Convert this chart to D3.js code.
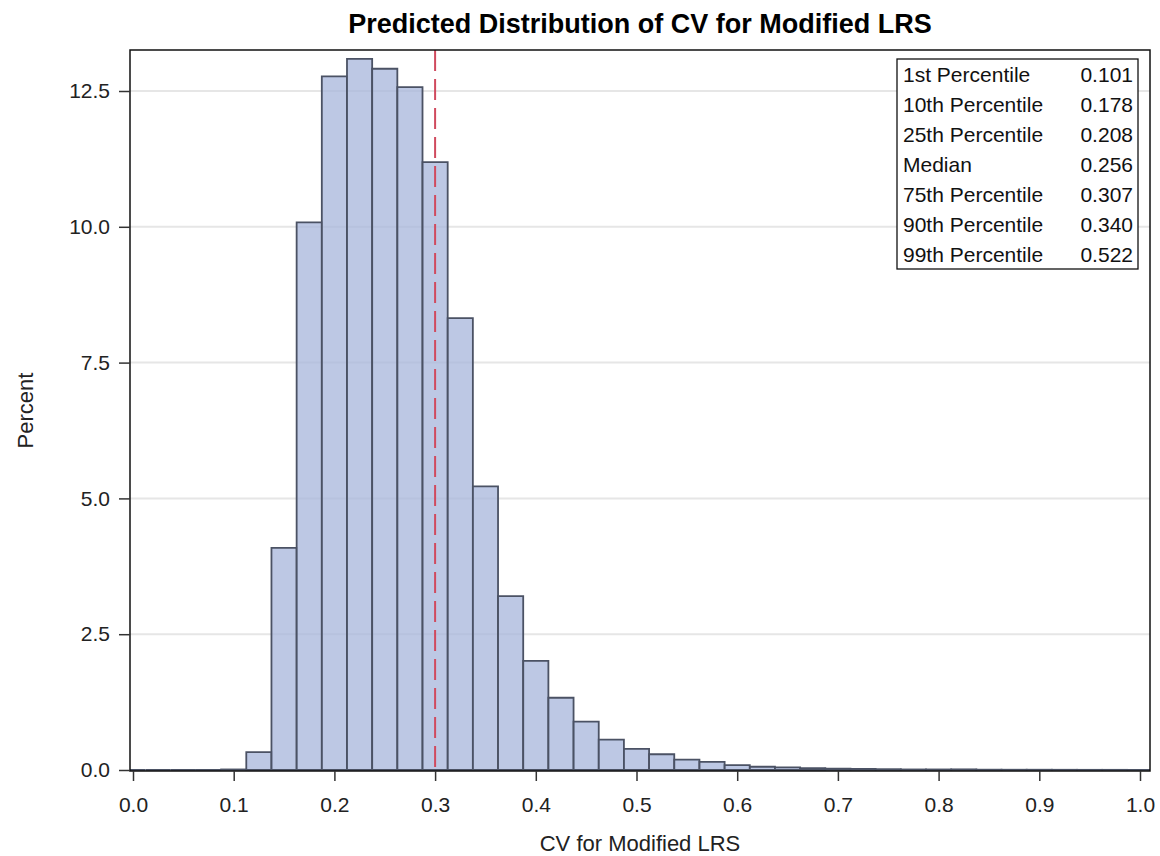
<!DOCTYPE html>
<html>
<head>
<meta charset="utf-8">
<script src="https://cdn.jsdelivr.net/npm/d3@7"></script>
<style>
  html, body { margin: 0; padding: 0; background: #fff; }
  svg { display: block; font-family: "Liberation Sans", Arial, sans-serif; }
</style>
</head>
<body>
<svg id="chart" width="1160" height="856"></svg>
<script>
// ---- data ----
const binCenters = [0.000, 0.025, 0.050, 0.075, 0.100, 0.125, 0.150, 0.175, 0.200, 0.225,
                    0.250, 0.275, 0.300, 0.325, 0.350, 0.375, 0.400, 0.425, 0.450, 0.475,
                    0.500, 0.525, 0.550, 0.575, 0.600, 0.625, 0.650, 0.675, 0.700, 0.725,
                    0.750, 0.775, 0.800, 0.825, 0.850, 0.875, 0.900, 0.925, 0.950, 0.975, 1.000];
const percentValues = [0, 0, 0, 0, 0.01, 0.33, 4.09, 10.08, 12.77, 13.09,
                       12.91, 12.57, 11.19, 8.32, 5.22, 3.20, 2.01, 1.33, 0.89, 0.56,
                       0.39, 0.29, 0.19, 0.15, 0.09, 0.06, 0.05, 0.035, 0.025, 0.02,
                       0.015, 0.01, 0.01, 0.012, 0.006, 0.005, 0.005, 0.004, 0.003, 0.003, 0.002];
const binWidth = 0.025;
const xTicks = [0.0, 0.1, 0.2, 0.3, 0.4, 0.5, 0.6, 0.7, 0.8, 0.9, 1.0];
const yTicks = [0.0, 2.5, 5.0, 7.5, 10.0, 12.5];
const refLineValue = 0.3;
const statLabels = ["1st Percentile", "10th Percentile", "25th Percentile", "Median",
                    "75th Percentile", "90th Percentile", "99th Percentile"];
const statValues = ["0.101", "0.178", "0.208", "0.256", "0.307", "0.340", "0.522"];
const titleText = "Predicted Distribution of CV for Modified LRS";
const xLabel = "CV for Modified LRS";
const yLabel = "Percent";

// ---- layout ----
const svg = d3.select("#chart");
const frame = { left: 130, right: 1150, top: 50, bottom: 771 };
const x = d3.scaleLinear().domain([0, 1]).range([133, 1140]);
const y = d3.scaleLinear().domain([0, 12.5]).range([770, 91]);

svg.append("defs").append("clipPath").attr("id", "plotclip")
  .append("rect")
  .attr("x", frame.left).attr("y", frame.top)
  .attr("width", frame.right - frame.left).attr("height", frame.bottom - frame.top);

// grid
svg.append("g").selectAll("line").data(yTicks.filter(d => d > 0)).join("line")
  .attr("x1", frame.left).attr("x2", frame.right)
  .attr("y1", d => y(d)).attr("y2", d => y(d))
  .attr("stroke", "#e6e6e6").attr("stroke-width", 2);

// bars (as paths so zero-height bins still show their outline)
const bins = binCenters.map((c, i) => ({ c, v: percentValues[i] }));
svg.append("g").attr("clip-path", "url(#plotclip)")
  .selectAll("path").data(bins).join("path")
  .attr("d", d => {
    const x0 = x(d.c - binWidth / 2), x1 = x(d.c + binWidth / 2);
    const y0 = y(0), y1 = y(d.v);
    return `M${x0},${y0}V${y1}H${x1}V${y0}Z`;
  })
  .attr("fill", "rgb(167,182,219)")
  .attr("fill-opacity", 0.75)
  .attr("stroke", "#4b5264")
  .attr("stroke-width", 1.8);

// reference line
svg.append("line")
  .attr("x1", x(refLineValue)).attr("x2", x(refLineValue))
  .attr("y1", frame.top).attr("y2", frame.bottom)
  .attr("stroke", "#d04a5e").attr("stroke-width", 2)
  .attr("stroke-dasharray", "21,8");

// frame
svg.append("rect")
  .attr("x", frame.left).attr("y", frame.top)
  .attr("width", frame.right - frame.left).attr("height", frame.bottom - frame.top)
  .attr("fill", "none").attr("stroke", "#111").attr("stroke-width", 1.5);

// x axis
const xAxis = svg.append("g").attr("transform", `translate(0,${frame.bottom})`)
  .call(d3.axisBottom(x).tickValues(xTicks).tickFormat(d3.format(".1f")).tickSize(10).tickPadding(16));
xAxis.select(".domain").remove();
xAxis.selectAll(".tick line").attr("stroke", "#333").attr("stroke-width", 1.5);
xAxis.selectAll(".tick text").attr("font-size", 21).attr("fill", "#222")
  .attr("font-family", "Liberation Sans, Arial, sans-serif");

// y axis
const yAxis = svg.append("g").attr("transform", `translate(${frame.left},0)`)
  .call(d3.axisLeft(y).tickValues(yTicks).tickFormat(d3.format(".1f")).tickSize(11).tickPadding(9));
yAxis.select(".domain").remove();
yAxis.selectAll(".tick line").attr("stroke", "#333").attr("stroke-width", 1.5);
yAxis.selectAll(".tick text").attr("font-size", 21).attr("fill", "#222")
  .attr("font-family", "Liberation Sans, Arial, sans-serif");

// title
svg.append("text").attr("x", (frame.left + frame.right) / 2).attr("y", 33)
  .attr("text-anchor", "middle").attr("font-size", 27).attr("font-weight", "bold")
  .attr("fill", "#000").text(titleText);

// axis labels
svg.append("text").attr("x", (frame.left + frame.right) / 2).attr("y", 851)
  .attr("text-anchor", "middle").attr("font-size", 22).attr("fill", "#222").text(xLabel);
svg.append("text").attr("transform", `translate(33,${(frame.top + frame.bottom) / 2}) rotate(-90)`)
  .attr("text-anchor", "middle").attr("font-size", 22).attr("fill", "#222").text(yLabel);

// stats inset
const inset = { x: 897, y: 59, w: 241, rowH: 30 };
svg.append("rect").attr("x", inset.x).attr("y", inset.y)
  .attr("width", inset.w).attr("height", inset.rowH * statLabels.length)
  .attr("fill", "#fff").attr("stroke", "#111").attr("stroke-width", 1.3);
const rows = svg.append("g").selectAll("g").data(statLabels).join("g")
  .attr("transform", (d, i) => `translate(0,${inset.y + 22.7 + i * inset.rowH})`);
rows.append("text").attr("x", inset.x + 6).attr("font-size", 21).attr("fill", "#111").text(d => d);
rows.append("text").attr("x", inset.x + inset.w - 5).attr("text-anchor", "end")
  .attr("font-size", 21).attr("fill", "#111").text((d, i) => statValues[i]);
</script>
</body>
</html>
